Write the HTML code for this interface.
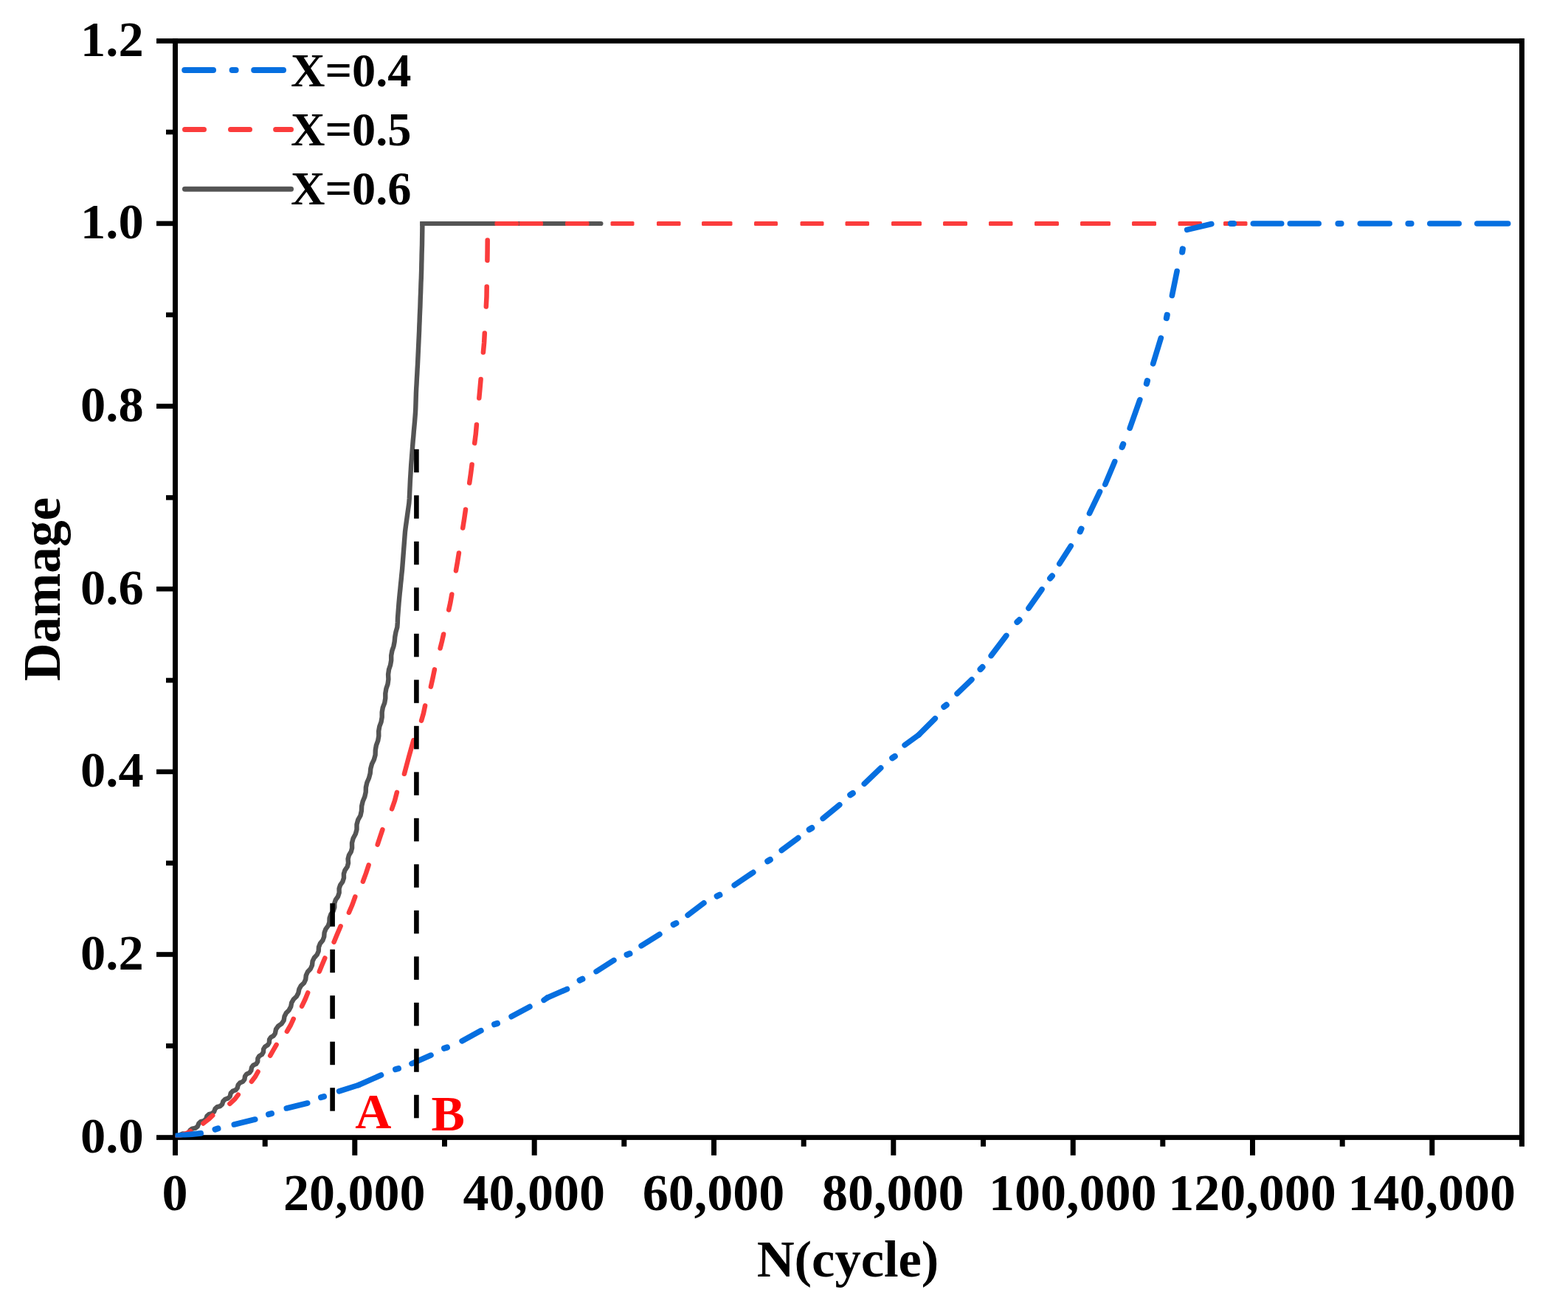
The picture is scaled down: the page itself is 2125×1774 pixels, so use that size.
<!DOCTYPE html>
<html lang="en"><head><meta charset="utf-8"><title>Damage vs N(cycle)</title>
<style>
html,body{margin:0;padding:0;background:#fff;}
body{width:2125px;height:1774px;overflow:hidden;}
svg{display:block;}
text{font-family:"Liberation Serif","DejaVu Serif",serif;font-weight:bold;fill:#000;}
.tk{font-size:70px;}
.ty{font-size:68.4px;}
.lg{font-size:64.3px;}
.ti{font-size:70.5px;}
.tv{font-size:71.2px;}
.ab{font-size:68px;fill:#ff0000;}
</style></head><body>
<svg width="2125" height="1774" viewBox="0 0 2125 1774">
<rect width="2125" height="1774" fill="#fff"/>

<g fill="#000">
<rect x="234" y="52.1" width="7" height="1513.7"/>
<rect x="2059" y="52.1" width="7" height="1501.7"/>
<rect x="212" y="52.1" width="1854" height="6.8"/>
<rect x="212" y="1538.2" width="1854" height="6.7"/>
<rect x="225" y="1414.1" width="11" height="6.6"/>
<rect x="212" y="1290.2" width="24" height="6.6"/>
<rect x="225" y="1166.4" width="11" height="6.6"/>
<rect x="212" y="1042.6" width="24" height="6.6"/>
<rect x="225" y="918.7" width="11" height="6.6"/>
<rect x="212" y="794.9" width="24" height="6.6"/>
<rect x="225" y="671.1" width="11" height="6.6"/>
<rect x="212" y="547.2" width="24" height="6.6"/>
<rect x="225" y="423.4" width="11" height="6.6"/>
<rect x="212" y="299.6" width="24" height="6.6"/>
<rect x="225" y="175.7" width="11" height="6.6"/>
<rect x="355.7" y="1540" width="7" height="13.8"/>
<rect x="477.3" y="1540" width="7" height="25.8"/>
<rect x="599.0" y="1540" width="7" height="13.8"/>
<rect x="720.7" y="1540" width="7" height="25.8"/>
<rect x="842.3" y="1540" width="7" height="13.8"/>
<rect x="964.0" y="1540" width="7" height="25.8"/>
<rect x="1085.7" y="1540" width="7" height="13.8"/>
<rect x="1207.3" y="1540" width="7" height="25.8"/>
<rect x="1329.0" y="1540" width="7" height="13.8"/>
<rect x="1450.7" y="1540" width="7" height="25.8"/>
<rect x="1572.3" y="1540" width="7" height="13.8"/>
<rect x="1694.0" y="1540" width="7" height="25.8"/>
<rect x="1815.7" y="1540" width="7" height="13.8"/>
<rect x="1937.3" y="1540" width="7" height="25.8"/>
</g>
<defs><clipPath id="plot"><rect x="237.5" y="55.5" width="1825" height="1486"/></clipPath></defs>
<g clip-path="url(#plot)" fill="none">
<polyline points="237.8,1542.3 241.3,1540.9 244.2,1537.9 247.6,1536.4 251.8,1536.9 255.3,1535.5 257.5,1531.9 260.5,1529.6 264.7,1528.9 267.7,1526.7 269.3,1522.7 272.0,1520.2 276.2,1519.2 279.0,1516.7 280.4,1512.7 283.2,1510.2 287.3,1509.1 290.1,1506.6 291.6,1502.6 294.3,1500.1 298.5,1499.1 301.2,1496.4 302.4,1492.4 305.1,1489.7 309.1,1488.4 311.7,1485.7 312.7,1481.5 315.2,1478.8 319.3,1477.3 321.7,1474.5 322.7,1470.3 325.1,1467.5 329.1,1465.9 331.4,1462.9 332.0,1458.7 334.2,1455.7 338.1,1453.9 340.3,1450.9 341.0,1446.7 343.2,1443.7 347.1,1441.9 349.2,1438.7 349.4,1434.4 351.3,1431.2 355.0,1429.0 356.9,1425.8 357.2,1421.6 359.2,1418.4 362.8,1416.3 364.8,1413.1 365.1,1408.8 367.1,1405.7 370.9,1403.6 372.9,1400.5 374.0,1394.9 377.0,1390.6 381.6,1387.4 384.6,1383.0 385.5,1377.5 387.9,1372.8 391.7,1368.9 394.2,1364.3 395.2,1358.8 397.8,1354.3 401.8,1350.5 404.3,1345.9 405.4,1340.5 407.9,1335.9 412.0,1332.1 414.2,1327.3 414.8,1321.8 417.0,1317.0 420.8,1313.0 423.0,1308.2 423.6,1302.7 425.8,1298.0 429.6,1293.9 431.7,1289.0 432.0,1283.5 433.9,1278.6 437.4,1274.4 439.2,1269.5 439.6,1264.0 441.4,1259.1 444.7,1254.7 446.4,1249.7 446.6,1244.2 448.3,1239.2 451.6,1234.8 453.3,1229.8 453.3,1224.3 454.9,1219.3 458.1,1214.8 459.7,1209.8 459.6,1204.3 461.2,1199.3 464.4,1194.8 466.0,1189.8 465.9,1184.3 467.5,1179.3 470.7,1174.7 472.0,1169.6 471.6,1164.1 472.9,1159.0 475.8,1154.3 477.1,1149.2 477.0,1142.5 478.6,1136.2 481.8,1130.3 483.5,1124.1 483.5,1117.3 485.2,1111.1 488.5,1105.2 489.9,1098.9 490.2,1092.3 491.7,1085.9 494.3,1079.8 495.7,1073.5 495.9,1066.9 497.4,1060.5 500.0,1054.5 501.7,1048.2 502.3,1041.7 504.0,1035.4 506.9,1029.4 508.6,1023.2 508.8,1016.5 509.9,1010.1 512.2,1003.9 513.3,997.5 513.2,990.9 514.3,984.5 516.6,978.3 517.7,971.9 517.7,965.3 518.8,958.9 521.2,952.7 522.3,946.3 522.3,939.7 523.4,933.3 525.5,927.1 526.4,920.6 526.1,914.0 527.0,907.6 529.1,901.3 530.2,894.9 530.2,888.3 531.4,881.9 533.5,875.7 534.7,869.3 535.3,862.8 536.5,856.4 538.3,850.2 538.8,843.7 539.0,837.2 539.5,830.7 540.0,824.2 540.5,817.7 541.1,811.2 541.7,804.8 542.4,798.3 543.0,791.8 543.7,785.4 544.3,778.9 545.0,772.4 545.5,765.9 546.0,759.5 546.5,753.0 547.0,746.5 547.5,740.0 548.0,733.5 548.5,727.1 549.0,720.6 549.8,714.1 550.7,707.7 551.6,701.3 552.5,694.8 553.4,688.4 554.3,682.0 554.8,675.5 555.1,669.0 555.4,662.5 555.7,656.0 556.0,649.5 556.4,643.0 556.8,636.5 557.2,630.0 557.7,623.6 558.2,617.1 558.7,610.6 559.2,604.1 559.7,597.6 560.3,591.2 560.8,584.7 561.4,578.2 562.0,571.7 562.5,565.3 563.0,558.8 563.3,552.3 563.5,545.8 563.7,539.3 563.9,532.8 564.2,526.3 564.6,519.8 564.9,513.3 565.3,506.8 565.6,500.3 566.0,493.9 566.3,487.4 566.6,480.9 566.9,474.4 567.2,467.9 567.5,461.4 567.8,454.9 568.1,448.4 568.3,441.9 568.6,435.4 568.8,428.9 569.1,422.4 569.4,415.9 569.6,409.4 569.8,402.9 570.1,396.4 570.3,389.9 570.5,383.5 570.8,377.0 571.0,370.5 571.2,364.0 571.3,357.5 571.5,351.0 571.6,344.5 571.8,338.0 572.0,331.5 572.1,325.0 572.2,318.5 572.3,312.0 572.4,305.5 572.4,300.2" stroke="#545454" stroke-width="6.4" stroke-linejoin="round" stroke-linecap="butt"/>
<path d="M569.35 303H814.4" stroke="#545454" stroke-width="6.2" stroke-linecap="butt"/>
<circle cx="814.4" cy="303" r="3.1" fill="#545454" stroke="none"/>
<g stroke="#fb3c3c" stroke-width="6.5" stroke-linecap="round" stroke-linejoin="round">
<polyline points="237.5,1541.5 255.0,1535.0 258.1,1533.0"/>
<polyline points="275.4,1522.5 282.5,1517.0 288.2,1511.7"/>
<polyline points="311.4,1495.9 318.4,1489.4 322.8,1483.6"/>
<polyline points="340.9,1465.7 346.0,1459.0 349.6,1452.5"/>
<polyline points="366.2,1430.6 370.5,1423.0 374.6,1415.9"/>
<polyline points="388.9,1397.8 394.0,1389.0 397.7,1380.9"/>
<polyline points="409.1,1363.7 413.5,1354.5 417.2,1345.4"/>
<polyline points="432.8,1316.6 436.5,1307.5 440.3,1298.4"/>
<polyline points="452.6,1276.7 457.0,1266.0 461.6,1255.3"/>
<polyline points="472.9,1236.7 477.5,1226.0 481.3,1215.4"/>
<polyline points="491.9,1194.7 496.0,1183.5 499.6,1172.4"/>
<polyline points="511.7,1144.6 515.0,1134.5 518.4,1124.4"/>
<polyline points="531.1,1096.3 535.0,1085.0 537.9,1073.8"/>
<polyline points="547.9,1048.8 554.0,1026.0 560.4,1003.2"/>
<polyline points="571.1,976.6 574.0,966.5 576.1,956.4"/>
<polyline points="583.9,930.6 586.5,919.0 588.9,907.4"/>
<polyline points="596.6,878.5 599.0,869.0 601.1,859.5"/>
<polyline points="608.2,826.5 610.5,816.0 612.3,805.5"/>
<polyline points="617.9,773.5 620.0,761.5 621.9,749.5"/>
<polyline points="627.2,715.5 629.2,703.0 631.0,690.5"/>
<polyline points="636.2,654.5 638.0,642.0 639.6,629.5"/>
<polyline points="643.2,600.5 644.8,588.0 645.9,575.5"/>
<polyline points="649.3,539.5 650.5,526.5 651.6,514.0"/>
<polyline points="654.9,477.5 656.1,464.5 656.8,451.5"/>
<polyline points="658.8,415.5 659.5,402.0 659.7,388.5"/>
<polyline points="660.4,352.9 660.6,339.0 660.7,325.5"/>
</g>
<g fill="#fb3c3c" stroke="none">
<rect x="670.5" y="299.9" width="32.5" height="6.2" rx="1.6"/>
<rect x="703.6" y="299.9" width="32.4" height="6.2" rx="1.6"/>
<rect x="766.0" y="299.9" width="32.5" height="6.2" rx="1.6"/>
<rect x="827.5" y="299.9" width="32.0" height="6.2" rx="1.6"/>
<rect x="890.0" y="299.9" width="32.5" height="6.2" rx="1.6"/>
<rect x="951.0" y="299.9" width="41.5" height="6.2" rx="1.6"/>
<rect x="1022.0" y="299.9" width="32.0" height="6.2" rx="1.6"/>
<rect x="1084.5" y="299.9" width="32.0" height="6.2" rx="1.6"/>
<rect x="1145.5" y="299.9" width="32.5" height="6.2" rx="1.6"/>
<rect x="1208.0" y="299.9" width="41.0" height="6.2" rx="1.6"/>
<rect x="1278.0" y="299.9" width="33.0" height="6.2" rx="1.6"/>
<rect x="1340.0" y="299.9" width="32.5" height="6.2" rx="1.6"/>
<rect x="1402.0" y="299.9" width="33.0" height="6.2" rx="1.6"/>
<rect x="1464.0" y="299.9" width="41.0" height="6.2" rx="1.6"/>
<rect x="1534.0" y="299.9" width="33.0" height="6.2" rx="1.6"/>
<rect x="1596.5" y="299.9" width="32.5" height="6.2" rx="1.6"/>
<rect x="1658.0" y="299.9" width="32.5" height="6.2" rx="1.6"/>
</g>
<g stroke="#066fe0" stroke-width="7.6" stroke-linecap="round">
<path d="M237.5 1539.6L272.2 1535.9"/>
<path d="M291.6 1530.6L295.4 1529.4" stroke-width="8.2"/>
<path d="M317.3 1524.0L345.7 1517.0"/>
<path d="M364.1 1510.1L367.9 1509.1" stroke-width="8.2"/>
<path d="M388.3 1502.0L416.7 1495.0"/>
<path d="M435.1 1487.1L438.9 1486.1" stroke-width="8.2"/>
<path d="M459.6 1478.9L486.0 1470.5"/>
<path d="M486.0 1470.5L516.5 1457.0"/>
<path d="M536.1 1449.1L539.9 1448.1" stroke-width="8.2"/>
<path d="M558.0 1441.4L584.0 1430.1"/>
<path d="M602.1 1420.7L605.9 1419.5" stroke-width="8.2"/>
<path d="M626.1 1410.8L651.9 1396.7"/>
<path d="M670.1 1388.2L673.9 1387.0" stroke-width="8.2"/>
<path d="M693.1 1377.7L717.9 1364.3"/>
<path d="M737.1 1355.3L742.0 1352.0"/>
<path d="M742.0 1352.0L768.5 1340.5"/>
<path d="M785.7 1328.4L789.3 1326.8" stroke-width="8.2"/>
<path d="M808.1 1316.6L831.9 1301.4"/>
<path d="M849.6 1293.8L853.4 1292.4" stroke-width="8.2"/>
<path d="M869.1 1281.7L893.9 1266.3"/>
<path d="M912.7 1253.0L916.3 1251.2" stroke-width="8.2"/>
<path d="M932.1 1240.3L953.9 1223.7"/>
<path d="M971.7 1214.4L975.3 1212.8" stroke-width="8.2"/>
<path d="M995.2 1199.7L1020.8 1182.3"/>
<path d="M1040.3 1167.1L1043.7 1165.1" stroke-width="8.2"/>
<path d="M1059.2 1152.4L1081.8 1135.6"/>
<path d="M1096.8 1124.1L1100.2 1122.1" stroke-width="8.2"/>
<path d="M1115.2 1109.3L1137.8 1090.7"/>
<path d="M1152.3 1077.2L1155.7 1075.0" stroke-width="8.2"/>
<path d="M1171.3 1062.2L1193.7 1040.8"/>
<path d="M1209.3 1027.2L1212.7 1025.0" stroke-width="8.2"/>
<path d="M1226.1 1009.8L1245.0 996.0"/>
<path d="M1245.0 996.0L1267.3 973.7"/>
<path d="M1279.4 957.8L1282.6 955.4" stroke-width="8.2"/>
<path d="M1297.1 940.0L1316.9 921.0"/>
<path d="M1328.6 907.0L1331.4 904.2" stroke-width="8.2"/>
<path d="M1343.2 888.6L1363.8 861.4"/>
<path d="M1378.5 843.0L1381.5 840.2" stroke-width="8.2"/>
<path d="M1394.0 824.3L1412.0 798.7"/>
<path d="M1423.2 783.6L1425.8 780.6" stroke-width="8.2"/>
<path d="M1435.8 764.0L1451.2 740.0"/>
<path d="M1463.8 720.3L1465.4 716.7" stroke-width="8.2"/>
<path d="M1476.5 695.6L1490.5 666.4"/>
<path d="M1497.8 656.4L1510.7 625.6"/>
<path d="M1520.7 605.9L1522.1 602.1" stroke-width="8.2"/>
<path d="M1531.2 580.2L1544.8 541.8"/>
<path d="M1553.9 519.9L1554.9 516.1" stroke-width="8.2"/>
<path d="M1562.7 492.9L1573.3 458.1"/>
<path d="M1580.9 431.0L1581.7 427.0" stroke-width="8.2"/>
<path d="M1588.4 400.5L1595.1 367.5"/>
<path d="M1602.2 341.5L1602.8 337.5" stroke-width="8.2"/>
<path d="M1608.7 311.4L1641.8 303.5"/>
<path d="M1668.0 303.0L1672.0 303.0" stroke-width="8.2"/>
<path d="M1698.3 303.0L1736.7 303.0"/>
<path d="M1748.3 303.0L1787.2 303.0"/>
<path d="M1813.5 303.0L1817.5 303.0" stroke-width="8.2"/>
<path d="M1843.3 303.0L1883.2 303.0"/>
<path d="M1908.5 303.0L1912.5 303.0" stroke-width="8.2"/>
<path d="M1937.8 303.0L1977.2 303.0"/>
<path d="M2001.8 303.0L2043.7 303.0"/>
</g>
</g>
<g fill="#000">
<rect x="447.3" y="1224.2" width="6.6" height="31.5"/>
<rect x="447.3" y="1286.7" width="6.6" height="31.5"/>
<rect x="447.3" y="1349.2" width="6.6" height="31.5"/>
<rect x="447.3" y="1411.7" width="6.6" height="31.5"/>
<rect x="447.3" y="1474.2" width="6.6" height="31.5"/>
<rect x="561.1" y="608.8" width="6.6" height="31.5"/>
<rect x="561.1" y="671.3" width="6.6" height="31.5"/>
<rect x="561.1" y="733.8" width="6.6" height="31.5"/>
<rect x="561.1" y="796.3" width="6.6" height="31.5"/>
<rect x="561.1" y="858.8" width="6.6" height="31.5"/>
<rect x="561.1" y="921.3" width="6.6" height="31.5"/>
<rect x="561.1" y="983.8" width="6.6" height="31.5"/>
<rect x="561.1" y="1046.3" width="6.6" height="31.5"/>
<rect x="561.1" y="1108.8" width="6.6" height="31.5"/>
<rect x="561.1" y="1171.3" width="6.6" height="31.5"/>
<rect x="561.1" y="1233.8" width="6.6" height="31.5"/>
<rect x="561.1" y="1296.3" width="6.6" height="31.5"/>
<rect x="561.1" y="1358.8" width="6.6" height="31.5"/>
<rect x="561.1" y="1421.3" width="6.6" height="31.5"/>
<rect x="561.1" y="1483.8" width="6.6" height="31.5"/>
</g>
<g class="ty" text-anchor="end">
<text x="194.6" y="1561.6">0.0</text>
<text x="194.6" y="1313.9">0.2</text>
<text x="194.6" y="1066.3">0.4</text>
<text x="194.6" y="818.6">0.6</text>
<text x="194.6" y="570.9">0.8</text>
<text x="194.6" y="323.3">1.0</text>
<text x="194.6" y="75.6">1.2</text>
</g>
<g class="tk" text-anchor="middle">
<text x="237.0" y="1640">0</text>
<text x="480.3" y="1640">20,000</text>
<text x="723.7" y="1640">40,000</text>
<text x="967.0" y="1640">60,000</text>
<text x="1210.3" y="1640">80,000</text>
<text x="1453.7" y="1640">100,000</text>
<text x="1697.0" y="1640">120,000</text>
<text x="1940.3" y="1640">140,000</text>
</g>
<text class="ti" text-anchor="middle" x="1149" y="1730">N(cycle)</text>
<text class="tv" text-anchor="middle" transform="translate(81,798.4) rotate(-90)">Damage</text>
<g fill="none" stroke-linecap="round">
<path d="M250.2 95H289M314.6 95H319.6M344.2 95H384" stroke="#066fe0" stroke-width="8"/>
<path d="M250.5 175.5H276.5M312.5 175.5H338.5M373.6 175.5H394.5" stroke="#fb3c3c" stroke-width="7"/>
<path d="M250.5 256.3H394.5" stroke="#545454" stroke-width="7"/>
</g>
<g class="lg">
<text x="394" y="117">X=0.4</text>
<text x="394" y="197">X=0.5</text>
<text x="394" y="277">X=0.6</text>
</g>
<text class="ab" x="481.3" y="1528.7">A</text>
<text class="ab" x="584.6" y="1531.5">B</text>
</svg></body></html>
